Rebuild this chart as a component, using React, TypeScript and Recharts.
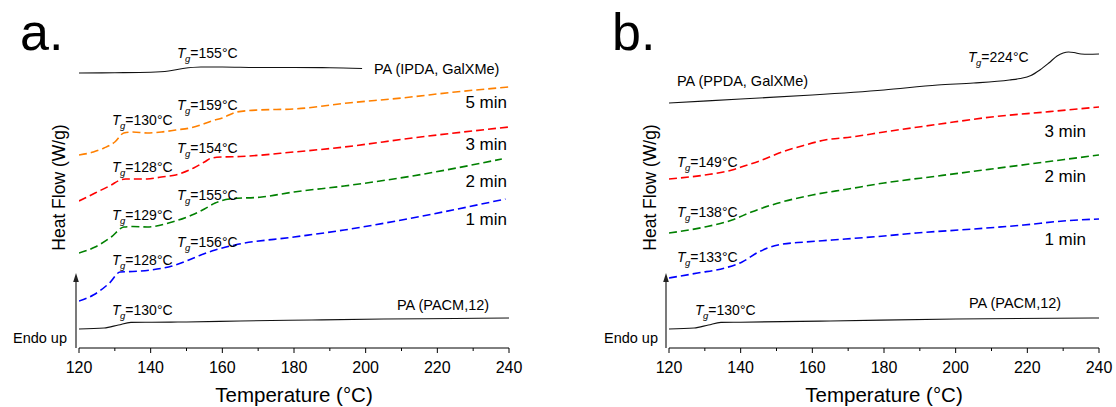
import React from "react";
import { LineChart, Line, XAxis, YAxis } from "recharts";

const FONT = "'Liberation Sans', Arial, Helvetica, sans-serif";

// x = temperature (°C), y = heat flow (arbitrary offset units, endo up)
const xTicks = [120, 130, 140, 150, 160, 170, 180, 190, 200, 210, 220, 230, 240];

// Panel a
const aIPDA = [[120,275],[130,275.3],[140,275.8],[145,277],[149,279.5],[154,281],[160,281],[170,280.5],[180,280.5],[190,280.3],[199,279.5]];
const a5min = [[120,193],[124,196],[127,200],[130,206],[132.5,215],[135,216],[139,215],[143,216],[147,218],[151,220],[154,223],[157,227],[160,230],[164,236],[170,238],[180,239],[195,245],[210,250],[225,256],[240,261]];
const a3min = [[120,147],[124.5,155],[129,163],[131.5,168],[133,169],[139,169],[143,171],[147,173],[152,180],[155,186],[157,190],[160,191],[165,191.5],[180,196],[194,201],[213,210],[240,221]];
const a2min = [[120,95],[124.5,101],[129,111],[132.5,121],[135,121.5],[139,121],[146,126],[151.5,133],[155,139],[158,145],[162,149],[171,151],[180,156],[194,162],[213,172],[238,189]];
const a1min = [[120,47],[124,53],[128.5,65],[131.5,76],[135,76.5],[140,78],[146,82],[150,87],[154,93],[158,98],[163.5,103],[180,111],[194,118],[213,130],[239,149]];
const aPACM = [[120,19],[127,20],[131,23],[134.5,25.6],[140,25.8],[150,26],[165,27],[185,28],[205,29],[225,29.5],[240,30]];
const aTg = ["155", "159", "130", "154", "128", "155", "129", "156", "128", "130"];

// Panel b
const bPPDA = [[120,245],[140,249],[160,253],[180,258],[195,263],[205,265],[215,268],[218,269.5],[221,272.5],[223.5,278],[226,285],[228.3,292],[230,295],[231.5,296],[233,295.5],[235,294],[237,293.8],[240,294]];
const b3min = [[120,169],[130,173],[137.6,178],[141,182],[146,188],[151.5,196],[158,203],[163.5,208],[171,211],[180,216],[195.6,224],[210,231],[225,236],[240,241]];
const b2min = [[120,115],[130,121],[137.6,128],[143,136],[151.5,146],[160,153],[170,159],[180,165],[195,172],[210,179],[225,186],[240,193]];
const b1min = [[120,70],[128,75],[135.6,80],[140.4,86],[145,96],[150.4,103],[158,106],[165.5,108],[180,112],[189,115],[205,119],[219,123],[230,127],[240,129]];
const bPACM = [[120,19],[127,20],[131,23],[134.5,25.6],[140,25.8],[165,27],[200,29],[240,30]];
const bTg = ["224", "149", "138", "133", "130"];

const toRows = (arr: number[][]) => arr.map(([t, v]) => ({ t, v }));

const AxisTick = (props: any) => {
  const { x, y, payload } = props;
  const v = payload.value;
  const major = v % 20 === 0;
  return (
    <g>
      <line x1={x} x2={x} y1={y} y2={y + (major ? 5 : 3)} stroke="#000" strokeWidth={1} />
      {major && (
        <text x={x} y={y + 25} textAnchor="middle" fontSize={16} fontFamily={FONT} fill="#000">
          {v}
        </text>
      )}
    </g>
  );
};

type Series = { data: number[][]; color: string; dashed: boolean };

const Panel = ({ series, width, right }: { series: Series[]; width: number; right: number }) => (
  <LineChart width={width} height={407} margin={{ top: 32, right, bottom: 29, left: 79 }}>
    <XAxis
      type="number"
      dataKey="t"
      domain={[120, 240]}
      ticks={xTicks}
      interval={0}
      tickSize={0}
      tickMargin={0}
      tickLine={false}
      tick={<AxisTick />}
      height={30}
      axisLine={{ stroke: "#000", strokeWidth: 1 }}
      allowDataOverflow
    />
    <YAxis
      type="number"
      domain={[0, 316]}
      width={0}
      tick={false}
      tickLine={false}
      axisLine={{ stroke: "#000", strokeWidth: 1 }}
      allowDataOverflow
    />
    {series.map((s, i) => (
      <Line
        key={i}
        data={toRows(s.data)}
        dataKey="v"
        type="monotone"
        stroke={s.color}
        strokeWidth={s.dashed ? 1.6 : 1.1}
        strokeDasharray={s.dashed ? "8 4" : undefined}
        dot={false}
        activeDot={false}
        isAnimationActive={false}
      />
    ))}
  </LineChart>
);

const Tg = ({ x, y, val }: { x: number; y: number; val: string }) => (
  <text x={x} y={y} fontSize={14} fontFamily={FONT} fill="#000">
    <tspan fontStyle="italic">T</tspan>
    <tspan fontStyle="italic" fontSize={9.5} dy={4} dx={-0.5}>g</tspan>
    <tspan dy={-4}>={val}°C</tspan>
  </text>
);

const Arrow = ({ x }: { x: number }) => (
  <g>
    <line x1={x} x2={x} y1={348} y2={280} stroke="#333" strokeWidth={1.3} />
    <polygon points={`${x},273 ${x - 2.8},282 ${x + 2.8},282`} fill="#222" />
  </g>
);

export default function App() {
  const seriesA: Series[] = [
    { data: aIPDA, color: "#111", dashed: false },
    { data: a5min, color: "#ff8000", dashed: true },
    { data: a3min, color: "#ff0000", dashed: true },
    { data: a2min, color: "#008000", dashed: true },
    { data: a1min, color: "#0000ff", dashed: true },
    { data: aPACM, color: "#111", dashed: false },
  ];
  const seriesB: Series[] = [
    { data: bPPDA, color: "#111", dashed: false },
    { data: b3min, color: "#ff0000", dashed: true },
    { data: b2min, color: "#008000", dashed: true },
    { data: b1min, color: "#0000ff", dashed: true },
    { data: bPACM, color: "#111", dashed: false },
  ];
  return (
    <div style={{ position: "absolute", left: 0, top: 0, width: 1116, height: 407, background: "#fff", overflow: "hidden" }}>
      <div style={{ position: "absolute", left: 0, top: 0 }}>
        <Panel series={seriesA} width={560} right={51} />
      </div>
      <div style={{ position: "absolute", left: 590, top: 0 }}>
        <Panel series={seriesB} width={526} right={17} />
      </div>
      <svg width={1116} height={407} style={{ position: "absolute", left: 0, top: 0, pointerEvents: "none" }}>
        {/* panel a */}
        <text x={20} y={50} fontSize={52} fontFamily={FONT}>a.</text>
        <text transform="rotate(-90)" x={-187.5} y={65} textAnchor="middle" fontSize={17.5} fontFamily={FONT}>Heat Flow (W/g)</text>
        <text x={294} y={402} textAnchor="middle" fontSize={20.5} fontFamily={FONT}>Temperature (°C)</text>
        <Arrow x={76} />
        <text x={67} y={343} textAnchor="end" fontSize={14.5} fontFamily={FONT}>Endo up</text>
        <Tg x={177} y={58} val={aTg[0]} />
        <Tg x={177} y={110} val={aTg[1]} />
        <Tg x={112} y={125} val={aTg[2]} />
        <Tg x={177} y={153} val={aTg[3]} />
        <Tg x={112} y={172} val={aTg[4]} />
        <Tg x={177} y={200} val={aTg[5]} />
        <Tg x={112} y={220} val={aTg[6]} />
        <Tg x={177} y={247} val={aTg[7]} />
        <Tg x={112} y={265} val={aTg[8]} />
        <Tg x={112} y={315} val={aTg[9]} />
        <text x={374} y={74} fontSize={14.5} fontFamily={FONT}>PA (IPDA, GalXMe)</text>
        <text x={397} y={310} fontSize={14.5} fontFamily={FONT}>PA (PACM,12)</text>
        <text x={507} y={108} textAnchor="end" fontSize={17} fontFamily={FONT}>5 min</text>
        <text x={507} y={150} textAnchor="end" fontSize={17} fontFamily={FONT}>3 min</text>
        <text x={507} y={187} textAnchor="end" fontSize={17} fontFamily={FONT}>2 min</text>
        <text x={507} y={225} textAnchor="end" fontSize={17} fontFamily={FONT}>1 min</text>
        {/* panel b */}
        <text x={612} y={50} fontSize={52} fontFamily={FONT}>b.</text>
        <text transform="rotate(-90)" x={-187.5} y={656} textAnchor="middle" fontSize={17.5} fontFamily={FONT}>Heat Flow (W/g)</text>
        <text x={884} y={402} textAnchor="middle" fontSize={20.5} fontFamily={FONT}>Temperature (°C)</text>
        <Arrow x={666} />
        <text x={658} y={343} textAnchor="end" fontSize={14.5} fontFamily={FONT}>Endo up</text>
        <Tg x={968} y={62} val={bTg[0]} />
        <Tg x={677} y={167} val={bTg[1]} />
        <Tg x={677} y={217} val={bTg[2]} />
        <Tg x={677} y={262} val={bTg[3]} />
        <Tg x={695} y={315} val={bTg[4]} />
        <text x={677} y={86} fontSize={14.5} fontFamily={FONT}>PA (PPDA, GalXMe)</text>
        <text x={969} y={308} fontSize={14.5} fontFamily={FONT}>PA (PACM,12)</text>
        <text x={1086} y={137} textAnchor="end" fontSize={17} fontFamily={FONT}>3 min</text>
        <text x={1086} y={182} textAnchor="end" fontSize={17} fontFamily={FONT}>2 min</text>
        <text x={1086} y={245} textAnchor="end" fontSize={17} fontFamily={FONT}>1 min</text>
      </svg>
    </div>
  );
}
